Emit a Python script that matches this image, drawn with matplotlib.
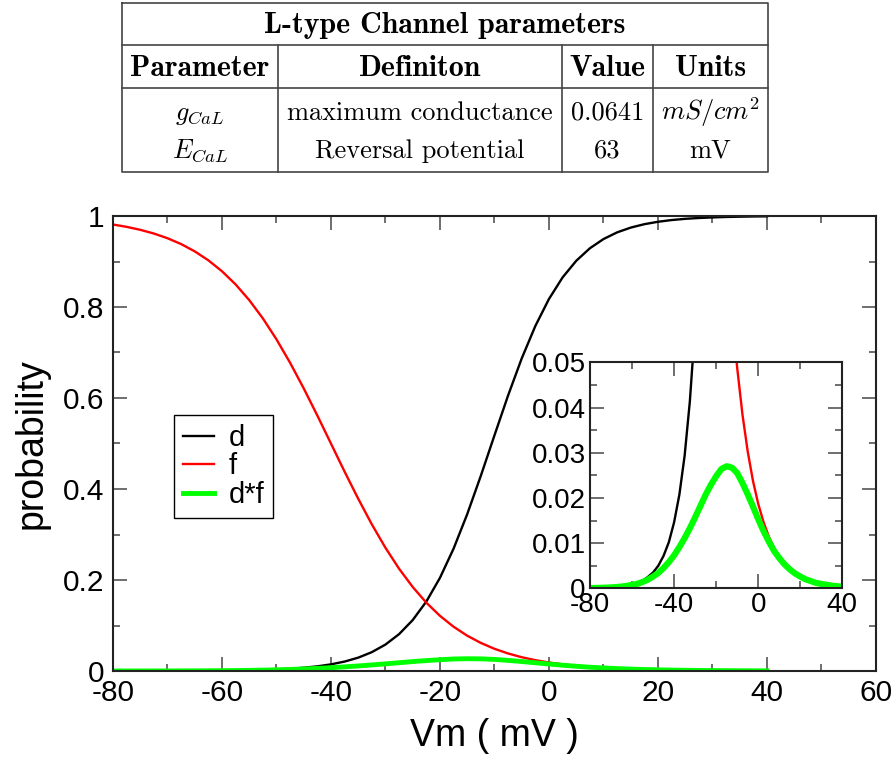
"""L-type Ca channel gating: steady-state d, f and d*f, with parameter table."""

import matplotlib
matplotlib.use("Agg")
import matplotlib.pyplot as plt
from matplotlib.ticker import MultipleLocator, FuncFormatter

plt.rcParams['font.family'] = ['Liberation Sans', 'DejaVu Sans']
plt.rcParams['mathtext.fontset'] = 'cm'
plt.rcParams['axes.unicode_minus'] = False

# membrane potential samples (mV)
vm = [-80, -77.5, -75, -72.5, -70, -67.5, -65, -62.5, -60, -57.5,
      -55, -52.5, -50, -47.5, -45, -42.5, -40, -37.5, -35, -32.5,
      -30, -27.5, -25, -22.5, -20, -17.5, -15, -12.5, -10, -7.5,
      -5, -2.5, 0, 2.5, 5, 7.5, 10, 12.5, 15, 17.5,
      20, 22.5, 25, 27.5, 30, 32.5, 35, 37.5, 40]

d_gate = [0.00005, 0.00007, 0.0001, 0.00014, 0.0002, 0.00029, 0.00042, 0.00059, 0.00085, 0.0012,
          0.0017, 0.0025, 0.0035, 0.0050, 0.0072, 0.0102, 0.0146, 0.0207, 0.0293, 0.0414,
          0.0581, 0.0810, 0.1119, 0.1526, 0.2047, 0.2689, 0.3446, 0.4290, 0.5178, 0.6055,
          0.6869, 0.7582, 0.8176, 0.8650, 0.9015, 0.9290, 0.9493, 0.9640, 0.9745, 0.9820,
          0.9873, 0.9911, 0.9938, 0.9956, 0.9969, 0.9979, 0.9985, 0.9990, 0.9993]

f_gate = [0.9813, 0.9762, 0.9697, 0.9615, 0.9512, 0.9384, 0.9224, 0.9027, 0.8787, 0.8498,
          0.8153, 0.7752, 0.7291, 0.6776, 0.6213, 0.5617, 0.5, 0.4383, 0.3787, 0.3224,
          0.2709, 0.2248, 0.1847, 0.1502, 0.1213, 0.0973, 0.0776, 0.0617, 0.0488, 0.0385,
          0.0303, 0.0238, 0.0187, 0.0147, 0.0115, 0.0090, 0.0070, 0.0055, 0.0043, 0.0034,
          0.0026, 0.0021, 0.0016, 0.0013, 0.0010, 0.00076, 0.00060, 0.00047, 0.00036]

df_gate = [0.00005, 0.00007, 0.0001, 0.00014, 0.00019, 0.00027, 0.00038, 0.00054, 0.00075, 0.0010,
           0.0014, 0.0019, 0.0026, 0.0034, 0.0045, 0.0058, 0.0073, 0.0091, 0.0111, 0.0133,
           0.0157, 0.0182, 0.0207, 0.0229, 0.0248, 0.0264, 0.0270, 0.0267, 0.0255, 0.0233,
           0.0208, 0.0181, 0.0153, 0.0127, 0.0104, 0.0083, 0.0067, 0.0053, 0.0042, 0.0033,
           0.0026, 0.0020, 0.0016, 0.0012, 0.00097, 0.00076, 0.00059, 0.00046, 0.00036]

# table content
table_title = "L-type Channel parameters"
table_header = ["Parameter", "Definiton", "Value", "Units"]
table_rows = [[r"$g_{CaL}$", "maximum conductance", "0.0641", r"$mS/cm^2$"],
              [r"$E_{CaL}$", "Reversal potential", "63", "mV"]]

W, H = 891, 759
fig = plt.figure(figsize=(W / 100, H / 100), dpi=100)

# ---- table drawn in pixel coordinates
tab = fig.add_axes([0, 0, 1, 1])
tab.set_xlim(0, W)
tab.set_ylim(H, 0)
tab.axis('off')
x0, x1 = 121.7, 767.7
col_edges = [x0, 278.3, 561.7, 652.7, x1]
y_top, y_title, y_head, y_bot = 2.7, 45, 87.7, 171.7
lc = dict(color='#444444', lw=1.2, solid_capstyle='projecting')
tab.plot([x0, x1, x1, x0, x0], [y_top, y_top, y_bot, y_bot, y_top], **lc)
tab.plot([x0, x1], [y_title, y_title], **lc)
tab.plot([x0, x1], [y_head, y_head], **lc)
for xe in col_edges[1:-1]:
    tab.plot([xe, xe], [y_title, y_bot], **lc)
centers = [(a + b) / 2 for a, b in zip(col_edges[:-1], col_edges[1:])]
tab.text((x0 + x1) / 2, 33, table_title, family='cmb10', fontsize=21.5,
         ha='center', va='baseline')
for cx, txt in zip(centers, table_header):
    tab.text(cx, 76, txt, family='cmb10', fontsize=21.5, ha='center', va='baseline')
for base, row in zip([120, 158], table_rows):
    for cx, txt in zip(centers, row):
        tab.text(cx, base, txt, family='cmr10', fontsize=19, ha='center', va='baseline')

fmt = FuncFormatter(lambda v, p: f'{v:g}')

# ---- main axes
ax = fig.add_axes([112.9 / W, (H - 671) / H, (876 - 112.9) / W, (671 - 216) / H])
ax.plot(vm, d_gate, color='black', lw=1.7, label='d')
ax.plot(vm, f_gate, color='#ff0000', lw=1.7, label='f')
ax.plot(vm, df_gate, color='#00ff00', lw=3.5, label='d*f')
ax.set_xlim(-80, 60)
ax.set_ylim(0, 1)
ax.xaxis.set_major_locator(MultipleLocator(20))
ax.xaxis.set_minor_locator(MultipleLocator(10))
ax.yaxis.set_major_locator(MultipleLocator(0.2))
ax.yaxis.set_minor_locator(MultipleLocator(0.1))
ax.xaxis.set_major_formatter(fmt)
ax.yaxis.set_major_formatter(fmt)
ax.tick_params(which='both', direction='in', top=True, right=True,
               color='#555555', width=1.2, labelsize=21.5, pad=6)
ax.tick_params(which='major', length=10)
ax.tick_params(which='minor', length=5)
for s in ax.spines.values():
    s.set_linewidth(1.5)
    s.set_color('#222222')
ax.set_xlabel('Vm ( mV )', fontsize=27, labelpad=8)
ax.set_ylabel('probability', fontsize=27, labelpad=10)
leg = ax.legend(loc='upper left', bbox_to_anchor=(0.0805, 0.5626), borderaxespad=0,
                fontsize=21, handlelength=1.05, handletextpad=0.5, labelspacing=0.02,
                borderpad=0.3, fancybox=False, framealpha=1)
leg.get_frame().set_edgecolor('black')
leg.get_frame().set_linewidth(1.0)

# ---- inset
ins = fig.add_axes([590 / W, (H - 588.3) / H, (842.3 - 590) / W, (588.3 - 362.3) / H])
ins.plot(vm, d_gate, color='black', lw=1.7)
ins.plot(vm, f_gate, color='#ff0000', lw=1.7)
ins.plot(vm, df_gate, color='#00ff00', lw=4.5)
ins.set_xlim(-80, 40)
ins.set_ylim(0, 0.05)
ins.xaxis.set_major_locator(MultipleLocator(40))
ins.xaxis.set_minor_locator(MultipleLocator(20))
ins.yaxis.set_major_locator(MultipleLocator(0.01))
ins.yaxis.set_minor_locator(MultipleLocator(0.005))
ins.xaxis.set_major_formatter(fmt)
ins.yaxis.set_major_formatter(fmt)
ins.tick_params(which='both', direction='in', top=True, right=True,
                color='#555555', width=1.2, labelsize=20, pad=3)
ins.tick_params(which='major', length=10)
ins.tick_params(which='minor', length=5)
for s in ins.spines.values():
    s.set_linewidth(1.5)
    s.set_color('#222222')

fig.savefig('out.png', dpi=100)
